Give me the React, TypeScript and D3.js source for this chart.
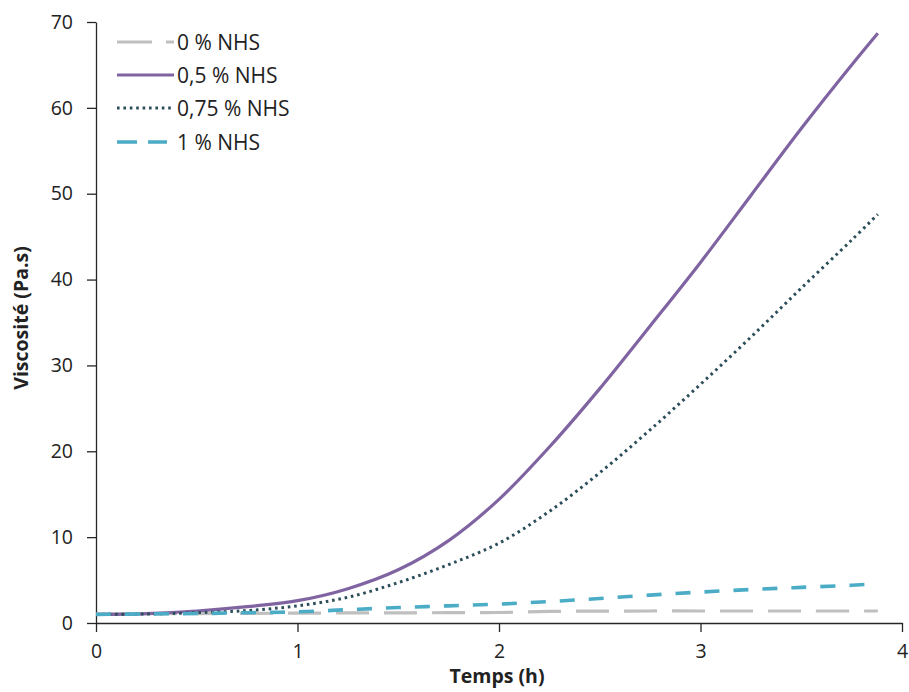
import React, { useEffect, useRef } from "react";
import * as d3 from "d3";

const times = [0, 0.25, 0.5, 0.75, 1.0, 1.25, 1.5, 1.75, 2.0, 2.25, 2.5, 2.75, 3.0, 3.25, 3.5, 3.75, 3.88];
const nhs0 = [1.05, 1.08, 1.1, 1.12, 1.15, 1.17, 1.18, 1.2, 1.22, 1.35, 1.38, 1.4, 1.4, 1.4, 1.4, 1.4, 1.4];
const nhs05 = [1.0, 1.1, 1.4, 1.9, 2.6, 4.0, 6.2, 9.6, 14.4, 20.5, 27.3, 34.6, 42.0, 49.8, 57.6, 65.0, 68.7];
const nhs075 = [1.0, 1.05, 1.2, 1.45, 2.0, 3.0, 4.7, 6.8, 9.3, 13.0, 17.5, 22.5, 27.8, 33.3, 39.0, 44.6, 47.6];
const nhs1 = [1.0, 1.05, 1.1, 1.2, 1.3, 1.55, 1.8, 2.0, 2.2, 2.5, 2.85, 3.25, 3.6, 3.9, 4.15, 4.4, 4.6];

const seriesNames = ["0 % NHS", "0,5 % NHS", "0,75 % NHS", "1 % NHS"];
const xTicks = [0, 1, 2, 3, 4];
const yTicks = [0, 10, 20, 30, 40, 50, 60, 70];

const styles = [
  { color: "#bfbfbf", width: 3.2, dash: "33 15" },
  { color: "#8064a2", width: 3.2, dash: null },
  { color: "#2b4d5a", width: 3, dash: "2.6 3.8" },
  { color: "#4bacc6", width: 3.6, dash: "15 14" },
];

export default function App() {
  const ref = useRef<SVGSVGElement | null>(null);

  useEffect(() => {
    const svg = d3.select(ref.current);
    svg.selectAll("*").remove();

    const x = d3.scaleLinear().domain([0, 4]).range([96, 902]);
    const y = d3.scaleLinear().domain([0, 70]).range([623, 22]);
    const font = "'Open Sans', sans-serif";
    const ink = "#222222";

    const allSeries = [nhs0, nhs05, nhs075, nhs1];
    const line = d3
      .line<[number, number]>()
      .x((d) => x(d[0]))
      .y((d) => y(d[1]))
      .curve(d3.curveCatmullRom.alpha(0.5));

    // axes
    const yAxis = svg
      .append("g")
      .attr("transform", `translate(${x(0)},0)`)
      .call(
        d3.axisLeft(y).tickValues(yTicks).tickFormat(d3.format("d")).tickSize(9).tickSizeOuter(0).tickPadding(14)
      );
    const xAxis = svg
      .append("g")
      .attr("transform", `translate(0,${y(0)})`)
      .call(
        d3.axisBottom(x).tickValues(xTicks).tickFormat(d3.format("d")).tickSize(9).tickSizeOuter(0).tickPadding(12)
      );
    [yAxis, xAxis].forEach((g) => {
      g.selectAll("path,line").attr("stroke", "#262626").attr("stroke-width", 1.3);
      g.selectAll("text").attr("font-family", font).attr("font-size", 19.5).attr("fill", ink);
    });

    // lines
    allSeries.forEach((vals, i) => {
      const data: [number, number][] = times.map((t, k) => [t, vals[k]]);
      const s = styles[i];
      const p = svg
        .append("path")
        .datum(data)
        .attr("d", line)
        .attr("fill", "none")
        .attr("stroke", s.color)
        .attr("stroke-width", s.width);
      if (s.dash) p.attr("stroke-dasharray", s.dash);
    });

    // legend
    const legY = [42, 75, 108, 142];
    const lg = svg.append("g");
    seriesNames.forEach((name, i) => {
      const s = styles[i];
      const yy = legY[i];
      const l = lg
        .append("line")
        .attr("x1", 117)
        .attr("x2", 174)
        .attr("y1", yy)
        .attr("y2", yy)
        .attr("stroke", s.color)
        .attr("stroke-width", s.width);
      if (i === 0) l.attr("stroke-dasharray", "35 14 8");
      else if (i === 2) l.attr("stroke-dasharray", "2.6 3.8");
      else if (i === 3) l.attr("stroke-dasharray", "20 11 19");
      lg.append("text")
        .attr("x", 177)
        .attr("y", yy)
        .attr("dy", "0.36em")
        .attr("font-family", font)
        .attr("font-size", 21)
        .attr("fill", ink)
        .text(name);
    });

    // axis titles
    svg
      .append("text")
      .attr("x", 497)
      .attr("y", 683)
      .attr("text-anchor", "middle")
      .attr("font-family", font)
      .attr("font-weight", "bold")
      .attr("font-size", 19.5)
      .attr("fill", ink)
      .text("Temps (h)");
    svg
      .append("text")
      .attr("transform", `translate(28,${318}) rotate(-90)`)
      .attr("text-anchor", "middle")
      .attr("font-family", font)
      .attr("font-weight", "bold")
      .attr("font-size", 19.5)
      .attr("fill", ink)
      .text("Viscosité (Pa.s)");
  }, []);

  return (
    <svg
      ref={ref}
      width={909}
      height={692}
      style={{ position: "absolute", left: 0, top: 0, background: "#fff" }}
    />
  );
}
